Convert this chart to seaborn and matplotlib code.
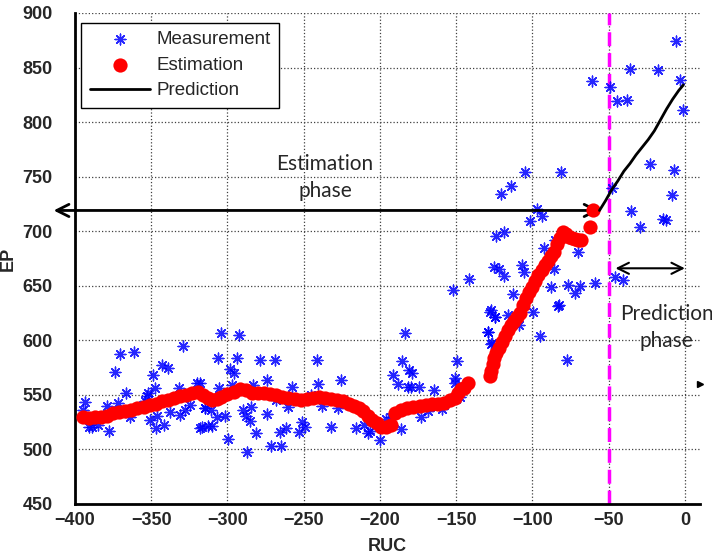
import numpy as np
import pandas as pd
import matplotlib
matplotlib.use("Agg")
import matplotlib.pyplot as plt
import seaborn as sns

# measured EP values (blue stars)
meas_x = [-393.4, -394.5, -389.0, -384.7, -390.6, -379.0, -377.6, -373.7, -370.4, -371.6,
          -366.4, -361.0, -363.8, -354.4, -352.9, -352.4, -350.7, -348.5, -347.8, -346.7,
          -345.9, -341.9, -343.0, -339.3, -337.5, -332.0, -330.9, -329.1, -327.6, -324.3,
          -320.0, -317.8, -315.0, -312.5, -304.2, -292.6, -306.4, -294.0, -298.0, -295.8,
          -296.9, -317.8, -305.7, -314.5, -311.0, -316.6, -310.0, -307.0, -301.3, -299.5,
          -289.7, -288.0, -285.3, -284.4, -287.0, -283.4, -281.0, -278.8, -274.0, -273.9,
          -271.7, -269.0, -268.4, -265.8, -264.7, -261.8, -260.3, -257.5, -253.0, -250.9,
          -249.3, -241.4, -240.6, -245.4, -237.7, -232.2, -227.8, -225.3, -215.8, -183.6,
          -185.8, -191.3, -188.4, -180.7, -179.2, -181.4, -179.6, -174.2, -164.3, -149.3,
          -150.7, -151.0, -147.2, -159.5, -168.2, -173.0, -186.2, -196.1, -192.8, -199.8,
          -210.3, -208.1, -206.4, -128.0, -124.8, -129.2, -127.0, -104.6, -81.4, -114.3,
          -120.8, -96.7, -93.7, -101.8, -123.7, -118.6, -92.4, -84.9, -70.4, -125.2,
          -122.2, -106.8, -105.5, -118.6, -85.7, -141.9, -88.0, -76.6, -69.0, -59.0,
          -72.0, -112.7, -82.7, -127.4, -124.8, -116.0, -99.6, -109.0, -128.8, -95.2,
          -126.6, -77.0, -152.0, -83.2, -5.7, -35.9, -17.3, -60.7, -49.1, -3.1,
          -44.7, -38.2, -0.9, -22.8, -6.8, -48.0, -8.2, -35.3, -14.1, -12.5,
          -29.4, -45.8, -40.4]
meas_y = [543.9, 536.0, 521.0, 522.5, 520.3, 540.0, 517.0, 571.4, 587.6, 543.0,
          552.0, 589.7, 530.0, 544.8, 549.0, 552.0, 527.0, 568.0, 556.0, 520.0,
          531.0, 522.5, 577.5, 574.5, 534.7, 556.0, 531.7, 595.0, 536.0, 540.8,
          561.0, 520.0, 538.0, 521.6, 606.6, 605.0, 583.6, 583.6, 573.5, 569.9,
          559.0, 561.0, 556.0, 537.8, 536.0, 521.0, 521.6, 529.4, 530.7, 509.6,
          536.0, 530.7, 526.4, 538.7, 497.7, 559.0, 514.8, 582.0, 532.6, 563.8,
          503.0, 582.0, 545.4, 516.3, 503.0, 519.4, 538.7, 557.6, 516.3, 525.5,
          521.0, 582.0, 560.0, 550.0, 540.0, 521.0, 537.8, 563.8, 519.4, 607.0,
          581.0, 568.3, 560.0, 573.0, 570.0, 557.6, 557.0, 557.0, 554.6, 581.0,
          565.6, 561.3, 548.0, 537.0, 535.6, 529.5, 518.4, 527.7, 529.5, 508.7,
          522.5, 514.8, 517.2, 626.4, 621.0, 608.0, 596.8, 754.0, 754.0, 741.0,
          734.4, 720.3, 713.6, 709.6, 695.9, 698.9, 684.6, 692.0, 681.0, 667.0,
          665.6, 669.0, 663.0, 658.5, 665.0, 656.0, 648.6, 651.0, 650.0, 652.5,
          643.0, 642.0, 632.6, 627.4, 621.0, 622.8, 625.6, 613.6, 608.0, 603.5,
          597.4, 582.0, 646.0, 631.7, 874.0, 849.0, 847.5, 838.0, 832.3, 839.0,
          819.7, 820.0, 811.5, 762.0, 756.4, 739.6, 732.8, 718.8, 711.0, 710.6,
          704.3, 658.0, 654.9]

# estimated EP (red dots)
est_x = [-395, -391, -387, -383, -379, -375, -371, -367, -363, -359, -355, -351, -347, -343,
         -339, -335, -331, -327, -323, -319, -316, -313, -310, -307, -304, -300, -296, -292,
         -288, -284, -280, -276, -272, -268, -264, -260, -256, -252, -248, -244, -240, -236,
         -232, -228, -224, -220, -217, -214, -211, -208, -205, -202, -199, -196, -193, -190,
         -186, -182, -178, -174, -170, -166, -162, -158, -154, -151, -149, -147, -145, -142,
         -128, -127, -126, -125, -124, -122, -120, -118, -116, -114, -112, -110, -108, -106,
         -104, -102, -100, -98, -96, -94, -92, -90, -88, -86, -84, -82, -80, -78, -76, -74,
         -72, -70, -68, -62, -60]
est_y = [530, 529, 530, 530, 531, 533, 534, 535, 536, 538, 539, 541, 542, 544,
         545, 547, 549, 550, 552, 553, 550, 547, 545, 546, 548, 551, 553, 555,
         554, 552, 552, 552, 551, 550, 548, 547, 546, 545, 546, 547, 548, 547,
         546, 545, 544, 542, 540, 538, 535, 531, 527, 524, 521, 521, 522, 533,
         536, 538, 539, 540, 541, 542, 542, 543, 545, 547, 552, 555, 556, 561,
         567, 572, 578, 584, 588, 593, 598, 604, 609, 614, 618, 621, 625, 632,
         639, 644, 649, 654, 660, 664, 669, 673, 677, 681, 688, 694, 699, 697, 695, 694,
         693, 692, 692, 704, 719]

# predicted EP (black line)
pred_x = [-56, -52, -48, -44, -40, -36, -32, -28, -24, -20, -16, -12, -8, -4, -1]
pred_y = [719, 728, 738, 746, 755, 762, 770, 777, 784, 792, 802, 812, 821, 829, 834]

x_ticks = [-400, -350, -300, -250, -200, -150, -100, -50, 0]
y_ticks = [450, 500, 550, 600, 650, 700, 750, 800, 850, 900]

sns.set_style("white")
plt.rcParams['font.family'] = ['Liberation Sans', 'DejaVu Sans']

fig = plt.figure(figsize=(7.12, 5.57), dpi=100)
ax = fig.add_axes([0.1053, 0.0952, 0.878, 0.8815])

meas = pd.DataFrame({"RUC": meas_x, "EP": meas_y})
est = pd.DataFrame({"RUC": est_x, "EP": est_y})
pred = pd.DataFrame({"RUC": pred_x, "EP": pred_y})

sns.scatterplot(data=meas, x="RUC", y="EP", ax=ax, marker=(8, 2, 0), s=60,
                color="blue", edgecolor="blue", linewidth=1.0, alpha=0.85,
                label="Measurement", zorder=3)
sns.scatterplot(data=est, x="RUC", y="EP", ax=ax, marker="o", s=105,
                color="red", edgecolor="red", linewidth=0, label="Estimation", zorder=4)
sns.lineplot(data=pred, x="RUC", y="EP", ax=ax, color="black", lw=2,
             label="Prediction", zorder=5, sort=False)

ax.axvline(-50, color="#ff00ff", ls="--", lw=2.5, dashes=(4, 2), zorder=2)

# phase arrows
ax.annotate("", xy=(-414, 719), xytext=(-56, 719), annotation_clip=False,
            arrowprops=dict(arrowstyle="<->", lw=2, color="black", mutation_scale=22,
                            shrinkA=0, shrinkB=0))
ax.annotate("", xy=(-45.5, 666), xytext=(0, 666), annotation_clip=False,
            arrowprops=dict(arrowstyle="<->", lw=1.5, color="black", mutation_scale=20,
                            shrinkA=0, shrinkB=0))
ax.text(-236, 749, "Estimation\nphase", ha="center", va="center", fontsize=15,
        family="Lato", linespacing=1.45)
ax.text(-12, 612, "Prediction\nphase", ha="center", va="center", fontsize=15,
        family="Lato", linespacing=1.45, clip_on=False)
ax.plot([10], [560], marker=">", color="black", ms=4, clip_on=False)

ax.set_xlim(-400, 10)
ax.set_ylim(450, 900)
ax.set_xticks(x_ticks)
ax.set_yticks(y_ticks)
ax.tick_params(axis="x", length=0, labelsize=13, pad=6)
ax.tick_params(axis="y", length=0, labelsize=13, pad=16)
for lab in ax.get_xticklabels() + ax.get_yticklabels():
    lab.set_fontweight("bold")
ax.grid(True, ls=":", color="0.25", lw=0.9)
ax.set_axisbelow(True)
for s in ["top", "right"]:
    ax.spines[s].set_visible(False)
for s in ["left", "bottom"]:
    ax.spines[s].set_color("black")
    ax.spines[s].set_linewidth(2)

ax.set_xlabel("RUC", fontsize=13, fontweight="bold", labelpad=6)
ax.set_ylabel("EP", fontsize=13, fontweight="bold", labelpad=4)

leg = ax.legend(loc="upper left", bbox_to_anchor=(0.01, 0.98), fontsize=13.5,
                frameon=True, fancybox=False, edgecolor="black", framealpha=1,
                handlelength=3.2, handletextpad=0.35, labelspacing=0.45, borderpad=0.45,
                borderaxespad=0)
leg.get_frame().set_linewidth(1)

fig.savefig("out.png", dpi=100)
